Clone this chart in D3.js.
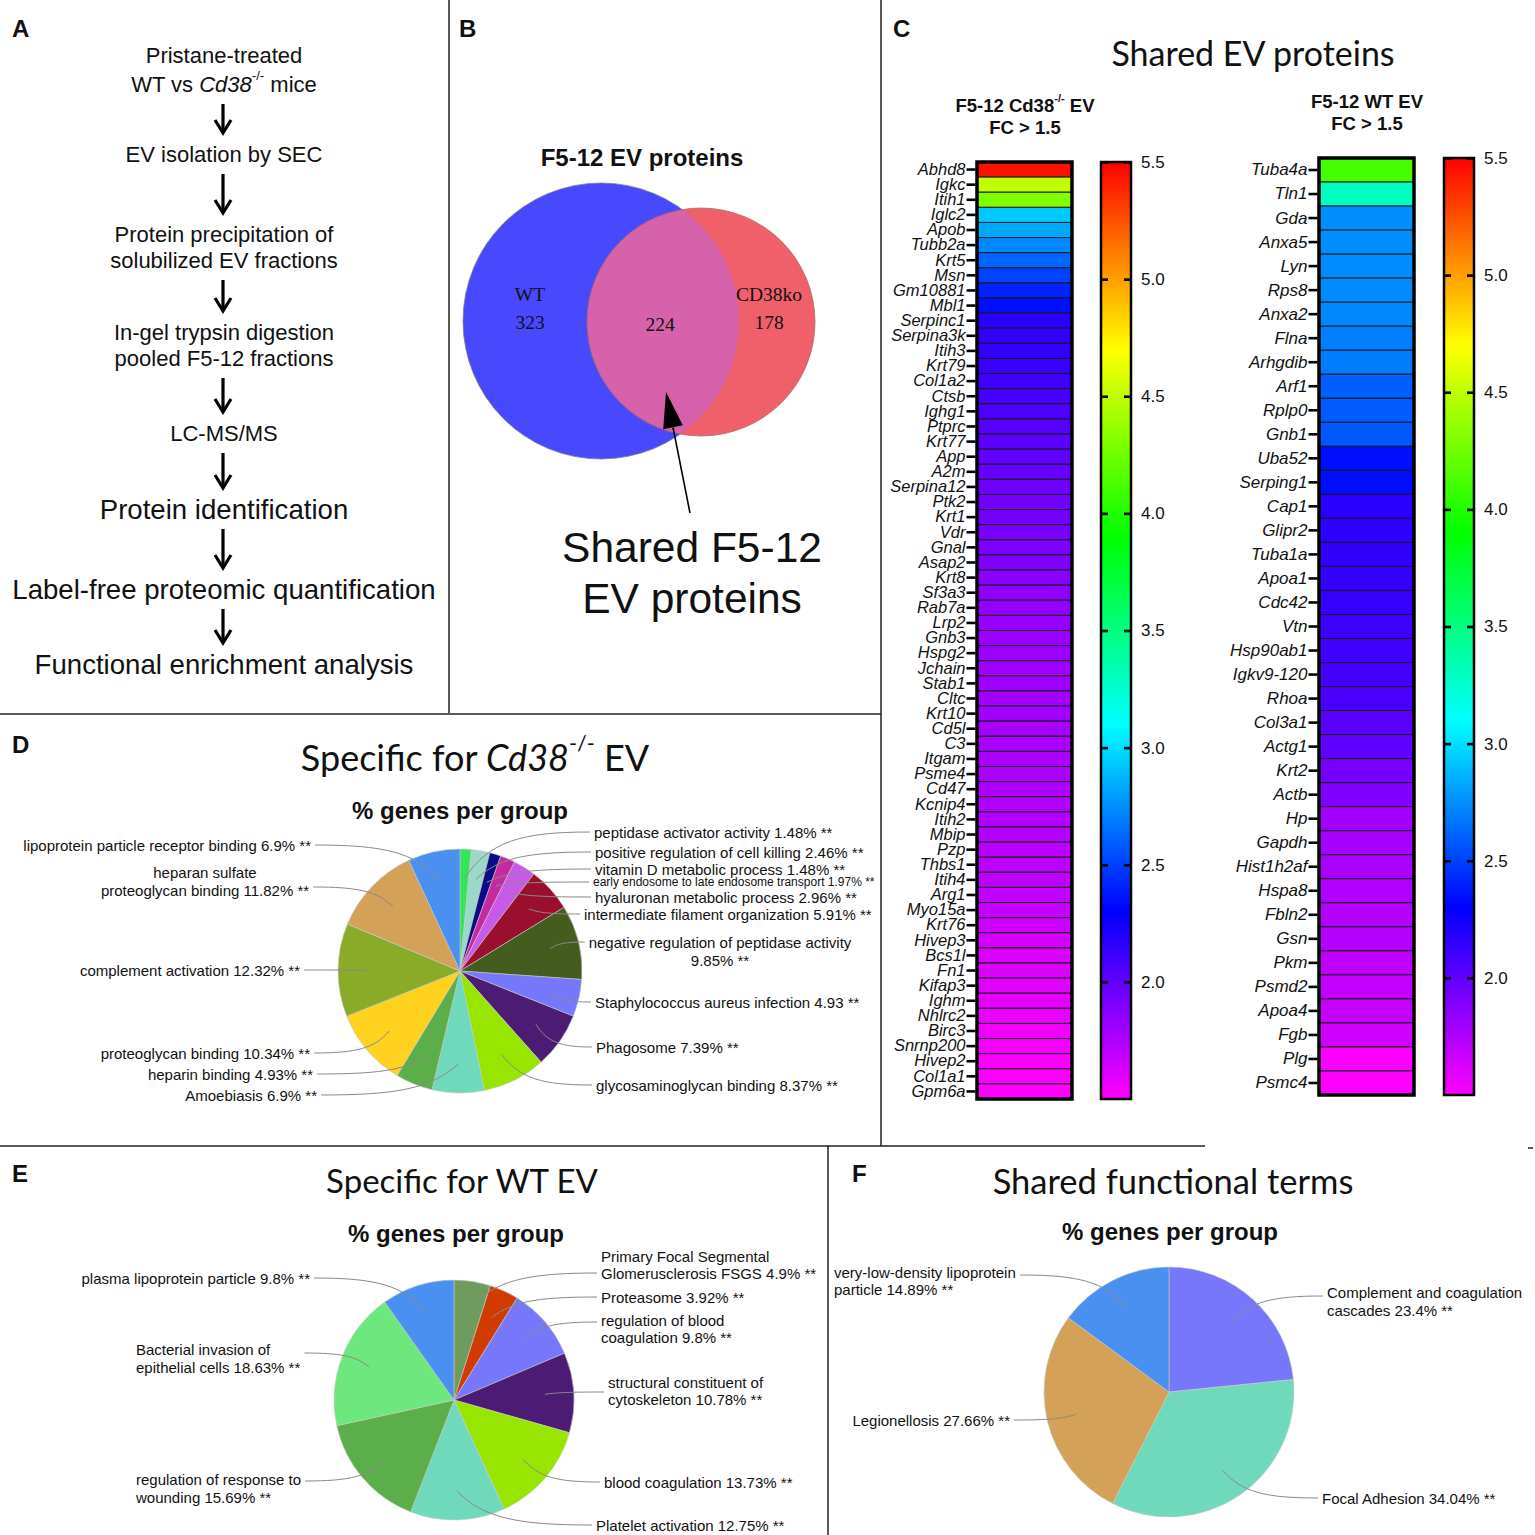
<!DOCTYPE html>
<html lang="en">
<head>
<meta charset="UTF-8">
<title>EV proteomics figure</title>
<script src="https://d3js.org/d3.v7.min.js"></script>
<style>
  body { margin: 0; background: #fff; }
  svg text { font-family: Arial, "Liberation Sans", sans-serif; fill: #111; }
  .narrow { font-family: "Liberation Sans Narrow", "Arial Narrow", sans-serif !important; }
  .myriad { font-family: Lato, "Open Sans", sans-serif !important; }
  .serif { font-family: "Liberation Serif", "Times New Roman", serif !important; }
</style>
</head>
<body>
<svg id="fig"></svg>
<script>
// ---------- data ----------
const flowLines = [
  ["Pristane-treated", "WT vs *Cd38*^-/-^ mice"],
  ["EV isolation by SEC"],
  ["Protein precipitation of", "solubilized EV fractions"],
  ["In-gel trypsin digestion", "pooled F5-12 fractions"],
  ["LC-MS/MS"],
  ["Protein identification"],
  ["Label-free proteomic quantification"],
  ["Functional enrichment analysis"]
];

const vennSets = ["WT", "CD38ko"];
const vennOnly = [323, 178];
const vennShared = 224;

const cd38Genes = ["Abhd8","Igkc","Itih1","Iglc2","Apob","Tubb2a","Krt5","Msn","Gm10881","Mbl1",
  "Serpinc1","Serpina3k","Itih3","Krt79","Col1a2","Ctsb","Ighg1","Ptprc","Krt77","App",
  "A2m","Serpina12","Ptk2","Krt1","Vdr","Gnal","Asap2","Krt8","Sf3a3","Rab7a",
  "Lrp2","Gnb3","Hspg2","Jchain","Stab1","Cltc","Krt10","Cd5l","C3","Itgam",
  "Psme4","Cd47","Kcnip4","Itih2","Mbip","Pzp","Thbs1","Itih4","Arg1","Myo15a",
  "Krt76","Hivep3","Bcs1l","Fn1","Kifap3","Ighm","Nhlrc2","Birc3","Snrnp200","Hivep2",
  "Col1a1","Gpm6a"];
const cd38FC = [5.45,4.5,4.3,2.93,2.83,2.73,2.62,2.51,2.41,2.35,
  2.17,2.15,2.14,2.12,2.1,2.08,2.06,2.03,2.02,2.0,
  1.98,1.96,1.94,1.93,1.92,1.91,1.9,1.87,1.85,1.84,
  1.83,1.82,1.81,1.8,1.8,1.79,1.79,1.78,1.77,1.77,
  1.76,1.75,1.74,1.74,1.73,1.72,1.71,1.7,1.69,1.68,
  1.66,1.63,1.62,1.61,1.59,1.58,1.57,1.55,1.53,1.52,
  1.51,1.5];

const wtGenes = ["Tuba4a","Tln1","Gda","Anxa5","Lyn","Rps8","Anxa2","Flna","Arhgdib","Arf1",
  "Rplp0","Gnb1","Uba52","Serping1","Cap1","Glipr2","Tuba1a","Apoa1","Cdc42","Vtn",
  "Hsp90ab1","Igkv9-120","Rhoa","Col3a1","Actg1","Krt2","Actb","Hp","Gapdh","Hist1h2af",
  "Hspa8","Fbln2","Gsn","Pkm","Psmd2","Apoa4","Fgb","Plg","Psmc4"];
const wtFC = [4.11,3.3,2.75,2.75,2.74,2.74,2.73,2.7,2.69,2.6,
  2.59,2.58,2.35,2.34,2.17,2.16,2.15,2.14,2.13,2.11,
  2.1,2.09,2.07,2.02,2.0,1.93,1.9,1.79,1.78,1.77,
  1.75,1.74,1.73,1.7,1.69,1.68,1.65,1.52,1.5];

const fcTicks = [2.0, 2.5, 3.0, 3.5, 4.0, 4.5, 5.0, 5.5];
const fcDomain = [1.5, 5.5];

const dNames = ["peptidase activator activity","positive regulation of cell killing","vitamin D metabolic process",
  "early endosome to late endosome transport","hyaluronan metabolic process","intermediate filament organization",
  "negative regulation of peptidase activity\n","Staphylococcus aureus infection","Phagosome",
  "glycosaminoglycan binding","Amoebiasis","heparin binding","proteoglycan binding",
  "complement activation","heparan sulfate\nproteoglycan binding","lipoprotein particle receptor binding"];
const dValues = [1.48,2.46,1.48,1.97,2.96,5.91,9.85,4.93,7.39,8.37,6.9,4.93,10.34,12.32,11.82,6.9];
const dColors = ["#33e655","#9ad9c9","#0b0b85","#c62aa3","#c95ae8","#9a0f2e","#445d1f","#7777fb",
  "#4c1b74","#98e600","#71d9bb","#5cae4b","#fed21f","#8aab28","#d3a158","#4a90f0"];

const eNames = ["Primary Focal Segmental\nGlomerusclerosis FSGS","Proteasome","regulation of blood\ncoagulation",
  "structural constituent of\ncytoskeleton","blood coagulation","Platelet activation",
  "regulation of response to\nwounding","Bacterial invasion of\nepithelial cells","plasma lipoprotein particle"];
const eValues = [4.9,3.92,9.8,10.78,13.73,12.75,15.69,18.63,9.8];
const eColors = ["#6e9c5e","#d13b00","#7777fb","#4c1b74","#98e600","#71d9bb","#5cae4b","#6ee87e","#4a90f0"];

const fNames = ["Complement and coagulation\ncascades","Focal Adhesion","Legionellosis","very-low-density lipoprotein\nparticle"];
const fValues = [23.4,34.04,27.66,14.89];
const fColors = ["#7777fb","#71d9bb","#d3a158","#4a90f0"];

// ---------- layout ----------
const W = 1535, H = 1535;
const svg = d3.select("#fig").attr("width", W).attr("height", H);
svg.append("rect").attr("width", W).attr("height", H).attr("fill", "#fff");

// text with *italic* and ^superscript^ parts
function rich(t, str, size) {
  const parts = str.split(/(\*[^*]+\*|\^[^^]+\^)/).filter(s => s);
  let up = false;
  parts.forEach(p => {
    if (p[0] === "*") {
      const s = t.append("tspan").attr("font-style", "italic").text(p.slice(1, -1));
      if (up) { s.attr("dy", size * 0.4); up = false; }
    } else if (p[0] === "^") {
      t.append("tspan").attr("font-size", size * 0.6).attr("dy", -size * 0.4).text(p.slice(1, -1));
      up = true;
    } else {
      const s = t.append("tspan").text(p);
      if (up) { s.attr("dy", size * 0.4); up = false; }
    }
  });
  return t;
}

function label(x, y, str, size, opts = {}) {
  const t = svg.append("text").attr("x", x).attr("y", y)
    .attr("text-anchor", opts.anchor || "middle")
    .attr("dominant-baseline", "central")
    .attr("font-size", size)
    .attr("font-weight", opts.bold ? "bold" : null)
    .attr("class", opts.cls || null);
  return rich(t, str, size);
}

// panel borders
const borders = [[449, 0, 449, 713], [0, 714, 881, 714], [881, 0, 881, 1146],
  [0, 1146, 1205, 1146], [828, 1146, 828, 1535], [1528, 1148, 1533, 1148]];
svg.selectAll("line.border").data(borders).join("line")
  .attr("x1", d => d[0]).attr("y1", d => d[1]).attr("x2", d => d[2]).attr("y2", d => d[3])
  .attr("stroke", "#222").attr("stroke-width", 1.5);

[["A", 12, 28], ["B", 459, 28], ["C", 893, 28], ["D", 12, 744], ["E", 12, 1173], ["F", 852, 1173]]
  .forEach(p => label(p[1], p[2], p[0], 24, { bold: true, anchor: "start" }));

// ---------- panel A: workflow ----------
const flowY = [[55, 84], [154], [234, 260], [332, 358], [433], [509], [589], [664]];
const flowSize = [22, 22, 22, 22, 22, 27.6, 27.6, 27.6];
const flowX = 224;
flowLines.forEach((lines, i) => {
  lines.forEach((ln, j) => label(flowX, flowY[i][j], ln, flowSize[i]));
  if (i < flowLines.length - 1) {
    const y1 = flowY[i][flowY[i].length - 1] + 20, y2 = flowY[i + 1][0] - 21;
    svg.append("line").attr("x1", flowX - 1).attr("x2", flowX - 1).attr("y1", y1).attr("y2", y2 - 2)
      .attr("stroke", "#000").attr("stroke-width", 3.2);
    svg.append("path").attr("d", `M${flowX - 9},${y2 - 13}L${flowX - 1},${y2}L${flowX + 7},${y2 - 13}`)
      .attr("fill", "none").attr("stroke", "#000").attr("stroke-width", 3.2);
  }
});

// ---------- panel B: venn ----------
label(642, 157, "F5-12 EV proteins", 24, { bold: true });
const cA = { x: 601, y: 321, r: 138 }, cB = { x: 701, y: 322, r: 114 };
const defs = svg.append("defs");
defs.append("clipPath").attr("id", "clipA").append("circle").attr("cx", cA.x).attr("cy", cA.y).attr("r", cA.r);
svg.append("circle").attr("cx", cA.x).attr("cy", cA.y).attr("r", cA.r)
  .attr("fill", "#4848fe").attr("stroke", "#7a7a9a").attr("stroke-width", 0.8);
svg.append("circle").attr("cx", cB.x).attr("cy", cB.y).attr("r", cB.r)
  .attr("fill", "#f0606a").attr("stroke", "#a07070").attr("stroke-width", 0.8);
svg.append("circle").attr("cx", cB.x).attr("cy", cB.y).attr("r", cB.r).attr("clip-path", "url(#clipA)")
  .attr("fill", "#d562aa").attr("stroke", "#906080").attr("stroke-width", 0.8);
[[530, vennSets[0], vennOnly[0]], [769, vennSets[1], vennOnly[1]]].forEach(v => {
  label(v[0], 294, v[1], 19.5, { cls: "serif" }).attr("fill", "#24244a");
  label(v[0], 322, String(v[2]), 19.5, { cls: "serif" }).attr("fill", "#24244a");
});
label(660, 324, String(vennShared), 19.5, { cls: "serif" }).attr("fill", "#24244a");
{
  const x1 = 690, y1 = 513, x2 = 666, y2 = 392;
  const ang = Math.atan2(y2 - y1, x2 - x1), hl = 36, hw = 10;
  const bx = x2 - Math.cos(ang) * hl, by = y2 - Math.sin(ang) * hl;
  svg.append("line").attr("x1", x1).attr("y1", y1).attr("x2", bx).attr("y2", by).attr("stroke", "#000").attr("stroke-width", 1.6);
  svg.append("path").attr("d", `M${x2},${y2}L${bx - Math.sin(ang) * hw},${by + Math.cos(ang) * hw}L${bx + Math.sin(ang) * hw},${by - Math.cos(ang) * hw}Z`).attr("fill", "#000");
}
label(692, 547, "Shared F5-12", 42.5);
label(692, 598, "EV proteins", 42.5);

// ---------- panel C: heatmaps ----------
label(1253, 52, "Shared EV proteins", 34, { cls: "myriad" });
label(1025, 105, "F5-12 Cd38^-/-^ EV", 18.5, { bold: true });
label(1025, 127, "FC > 1.5", 18.5, { bold: true });
label(1367, 101, "F5-12 WT EV", 18.5, { bold: true });
label(1367, 123, "FC > 1.5", 18.5, { bold: true });

const hue = d3.scaleLinear().domain(fcDomain).range([300, 0]).clamp(true);
const fcColor = v => d3.hsl(hue(v), 1, 0.5).formatHex();

function drawHeat(cfg) {
  const g = svg.append("g");
  const y = d3.scaleBand().domain(cfg.genes).range([cfg.top, cfg.bottom]);
  g.selectAll("rect.cell").data(cfg.genes).join("rect")
    .attr("x", cfg.x).attr("y", d => y(d)).attr("width", cfg.w).attr("height", y.bandwidth())
    .attr("fill", (d, i) => fcColor(cfg.values[i])).attr("stroke", "#1a1a1a").attr("stroke-width", 1);
  g.append("rect").attr("x", cfg.x).attr("y", cfg.top).attr("width", cfg.w).attr("height", cfg.bottom - cfg.top)
    .attr("fill", "none").attr("stroke", "#000").attr("stroke-width", 3.5);
  const ax = g.append("g").attr("transform", `translate(${cfg.x - 1.5},0)`)
    .call(d3.axisLeft(y).tickSize(9).tickPadding(1));
  ax.select(".domain").remove();
  ax.selectAll(".tick line").attr("stroke", "#000").attr("stroke-width", 2.6);
  ax.selectAll(".tick text").attr("font-size", cfg.fs).attr("font-style", "italic")
    .attr("font-family", "Arial, 'Liberation Sans', sans-serif").attr("fill", "#111");

  // colour bar
  const cy = d3.scaleLinear().domain(fcDomain).range([cfg.bottom, cfg.top]);
  const gid = "grad" + cfg.id;
  const grad = defs.append("linearGradient").attr("id", gid).attr("x1", 0).attr("y1", 1).attr("x2", 0).attr("y2", 0);
  d3.range(fcDomain[0], fcDomain[1] + 0.001, 0.05).forEach(v => {
    grad.append("stop").attr("offset", (v - fcDomain[0]) / (fcDomain[1] - fcDomain[0])).attr("stop-color", fcColor(v));
  });
  g.append("rect").attr("x", cfg.cbx).attr("y", cfg.top).attr("width", 30).attr("height", cfg.bottom - cfg.top)
    .attr("fill", `url(#${gid})`).attr("stroke", "#000").attr("stroke-width", 2.5);
  const axR = g.append("g").attr("transform", `translate(${cfg.cbx + 30},0)`)
    .call(d3.axisRight(cy).tickValues(fcTicks).tickFormat(d3.format(".1f")).tickSizeInner(-7).tickSizeOuter(0).tickPadding(10));
  const axL = g.append("g").attr("transform", `translate(${cfg.cbx},0)`)
    .call(d3.axisLeft(cy).tickValues(fcTicks).tickFormat("").tickSizeInner(-7).tickSizeOuter(0));
  [axR, axL].forEach(a => {
    a.select(".domain").remove();
    a.selectAll(".tick line").attr("stroke", "#000").attr("stroke-width", 2.6);
  });
  axR.selectAll(".tick text").attr("font-size", 17).attr("font-family", "Arial, 'Liberation Sans', sans-serif").attr("fill", "#222");
}
drawHeat({ id: "L", genes: cd38Genes, values: cd38FC, x: 977, w: 95, top: 162, bottom: 1099, cbx: 1101, fs: 16.5 });
drawHeat({ id: "R", genes: wtGenes, values: wtFC, x: 1319, w: 95, top: 158, bottom: 1095, cbx: 1444, fs: 17 });

// ---------- panels D, E, F: pies ----------
const dLab = [
  { x: 594, y: [832] }, { x: 595, y: [852] }, { x: 595, y: [869] }, { x: 593, y: [882], fs: 12 },
  { x: 595, y: [897] }, { x: 584, y: [914] }, { x: 720, y: [942, 960], anchor: "middle" },
  { x: 595, y: [1002], noPct: true }, { x: 596, y: [1047] }, { x: 596, y: [1085] },
  { x: 317, y: [1095], anchor: "end" }, { x: 313, y: [1074], anchor: "end" }, { x: 310, y: [1053], anchor: "end" },
  { x: 300, y: [970], anchor: "end" }, { x: 205, y: [872, 890], anchor: "middle", ly: 887 },
  { x: 311, y: [845], anchor: "end" }
];
const eLab = [
  { x: 601, y: [1256, 1273], ly: 1273 }, { x: 601, y: [1297] }, { x: 601, y: [1320, 1337], ly: 1322 },
  { x: 608, y: [1382, 1399], ly: 1392 }, { x: 604, y: [1482] }, { x: 596, y: [1525] },
  { x: 136, y: [1479, 1497], ly: 1481 }, { x: 136, y: [1349, 1367], ly: 1353 },
  { x: 310, y: [1278], anchor: "end" }
];
const fLab = [
  { x: 1327, y: [1292, 1310], ly: 1296 }, { x: 1322, y: [1498] },
  { x: 1010, y: [1420], anchor: "end" }, { x: 834, y: [1272, 1289], ly: 1275 }
];

function drawPie(cfg) {
  const g = svg.append("g");
  const items = cfg.names.map((n, i) => ({ n, v: cfg.values[i], c: cfg.colors[i] }));
  const arcs = d3.pie().sort(null).value(d => d.v)(items);
  const arc = d3.arc().innerRadius(0).outerRadius(cfg.r);
  g.append("g").attr("transform", `translate(${cfg.cx},${cfg.cy})`)
    .selectAll("path").data(arcs).join("path")
    .attr("d", arc).attr("fill", d => d.data.c).attr("stroke", "#c8c8c8").attr("stroke-width", 0.6);

  arcs.forEach((a, i) => {
    const L = cfg.labels[i];
    const txt = a.data.n + " " + a.data.v + (L.noPct ? "" : "%") + " **";
    const lines = txt.split("\n").map(s => s.trim());
    const tg = g.append("g");
    lines.forEach((ln, j) => tg.append("text").attr("class", "narrow")
      .attr("x", L.x).attr("y", L.y[j]).attr("text-anchor", L.anchor || "start")
      .attr("dominant-baseline", "central").attr("font-size", L.fs || 15).attr("fill", "#222").text(ln));
    const bb = tg.node().getBBox();
    const right = L.x > cfg.cx;
    const ex = right ? bb.x - 4 : bb.x + bb.width + 4;
    const ey = L.ly !== undefined ? L.ly : L.y[0];
    const mid = (a.startAngle + a.endAngle) / 2;
    const sx = cfg.cx + Math.sin(mid) * cfg.r * 0.76, sy = cfg.cy - Math.cos(mid) * cfg.r * 0.76;
    const dx = ex - sx;
    g.append("path")
      .attr("d", `M${sx},${sy}C${sx + dx * 0.2},${sy + (ey - sy) * 0.8} ${sx + dx * 0.45},${ey} ${ex},${ey}`)
      .attr("fill", "none").attr("stroke", "#8a8a8a").attr("stroke-width", 1);
  });
}

label(475, 757, "Specific for *Cd38*^-/-^ EV", 36, { cls: "myriad" });
label(460, 810, "% genes per group", 24, { bold: true, cls: "narrow" });
drawPie({ cx: 460, cy: 971, r: 122, names: dNames, values: dValues, colors: dColors, labels: dLab });

label(462, 1180, "Specific for WT EV", 33, { cls: "myriad" });
label(456, 1233, "% genes per group", 24, { bold: true, cls: "narrow" });
drawPie({ cx: 454, cy: 1400, r: 120, names: eNames, values: eValues, colors: eColors, labels: eLab });

label(1173, 1180, "Shared functional terms", 34.5, { cls: "myriad" });
label(1170, 1231, "% genes per group", 24, { bold: true, cls: "narrow" });
drawPie({ cx: 1169, cy: 1392, r: 125, names: fNames, values: fValues, colors: fColors, labels: fLab });
</script>
</body>
</html>
